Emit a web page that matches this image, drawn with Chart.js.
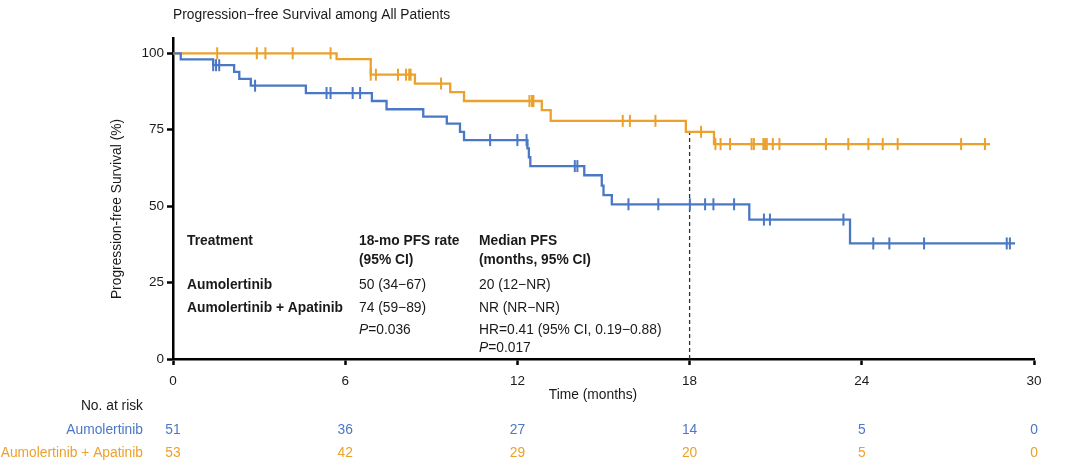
<!DOCTYPE html>
<html>
<head>
<meta charset="utf-8">
<script src="https://cdn.jsdelivr.net/npm/chart.js@4/dist/chart.umd.min.js"></script>
<style>
html,body{margin:0;padding:0;background:#fff;}
#wrap{width:1080px;height:465px;position:relative;}
</style>
</head>
<body>
<div id="wrap"><canvas id="c" width="1080" height="465"></canvas></div>
<script>
// ---- Data ----
const aumoTimes  = [0, 0.27, 1.40, 2.13, 2.31, 2.71, 4.63, 6.93, 7.44, 8.72, 9.54, 10.00, 10.14, 12.35, 12.40, 12.45, 14.33, 14.94, 15.00, 15.29, 20.08, 23.59, 29.34];
const aumoSurv   = [100, 98.0, 96.1, 93.9, 91.6, 89.4, 87.0, 84.4, 81.7, 79.3, 77.0, 74.3, 71.6, 68.9, 66.0, 63.1, 60.1, 56.7, 53.6, 50.6, 45.6, 37.8, 37.8];
const aumoCensor = [1.40, 1.50, 1.61, 2.86, 5.35, 5.49, 6.26, 6.52, 11.05, 12.00, 12.32, 14.00, 14.09, 15.87, 16.91, 18.01, 18.54, 18.83, 19.55, 20.59, 20.80, 23.36, 24.40, 24.96, 26.17, 29.05, 29.16];

const comboTimes  = [0, 5.70, 6.89, 8.43, 9.66, 10.14, 12.85, 13.16, 17.87, 18.85, 28.47];
const comboSurv   = [100, 98.1, 93.0, 90.1, 87.3, 84.4, 81.4, 77.9, 74.3, 70.3, 70.3];
const comboCensor = [1.54, 2.92, 3.22, 4.17, 5.49, 6.89, 7.07, 7.84, 8.12, 8.23, 8.28, 9.34, 12.42, 12.51, 12.56, 15.67, 15.92, 16.81, 18.40, 18.90, 19.08, 19.41, 20.16, 20.24, 20.57, 20.63, 20.69, 20.90, 21.13, 22.75, 23.53, 24.23, 24.73, 25.25, 27.46, 28.29];

const landmarkMonth = 18;
const landmarkValue = 74.3;

const xTicks = [0, 6, 12, 18, 24, 30];
const yTicks = [0, 25, 50, 75, 100];

const riskTimes = [0, 6, 12, 18, 24, 30];
const riskAumo  = [51, 36, 27, 14, 5, 0];
const riskCombo = [53, 42, 29, 20, 5, 0];

const armNames = ["Aumolertinib", "Aumolertinib + Apatinib"];

// ---- styles ----
const BLUE = "#4a78c4";
const ORANGE = "#eca12c";
const FONT = "'Liberation Sans', Arial, Helvetica, sans-serif";
const FS = 13.8;

function stepPoints(times, surv){ return times.map((t,i)=>({x:t,y:surv[i]})); }
function survAt(times, surv, t){
  let v = surv[0];
  for (let i=0;i<times.length;i++){ if (times[i] <= t) v = surv[i]; }
  return v;
}
function censorPoints(ct, times, surv){ return ct.map(t=>({x:t,y:survAt(times,surv,t)})); }

const textPlugin = {
  id:'texts',
  afterDraw(chart){
    const ctx = chart.ctx;
    const xs = chart.scales.x;
    ctx.save();
    ctx.fillStyle = '#1a1a1a';
    ctx.textBaseline = 'middle';
    const bold = "bold " + FS + "px " + FONT, reg = FS + "px " + FONT, ital = "italic " + FS + "px " + FONT;
    // title
    ctx.font = reg;
    ctx.textAlign = 'left';
    ctx.fillText("Progression\u2212free Survival among All Patients", 173, 15);
    // x title
    ctx.textAlign = 'center';
    ctx.fillText("Time (months)", 593, 395);
    // y title
    ctx.save();
    ctx.translate(117, 209);
    ctx.rotate(-Math.PI/2);
    ctx.fillText("Progression-free Survival (%)", 0, 0);
    ctx.restore();

    // inner table
    ctx.textAlign = 'left';
    ctx.font = bold;
    ctx.fillText("Treatment", 187, 241.5);
    ctx.fillText("18-mo PFS rate", 359, 241.5);
    ctx.fillText("(95% CI)", 359, 260);
    ctx.fillText("Median PFS", 479, 241.5);
    ctx.fillText("(months, 95% CI)", 479, 260);
    ctx.fillText(armNames[0], 187, 285);
    ctx.fillText(armNames[1], 187, 308);
    ctx.font = reg;
    ctx.fillText("50 (34\u221267)", 359, 285);
    ctx.fillText("74 (59\u221289)", 359, 308);
    ctx.fillText("20 (12\u2212NR)", 479, 285);
    ctx.fillText("NR (NR\u2212NR)", 479, 308);
    ctx.fillText("HR=0.41 (95% CI, 0.19\u22120.88)", 479, 330);
    function pText(x, y, rest){
      ctx.font = ital; ctx.fillText("P", x, y);
      const w = ctx.measureText("P").width;
      ctx.font = reg; ctx.fillText(rest, x + w, y);
    }
    pText(359, 330, "=0.036");
    pText(479, 348, "=0.017");

    // risk table
    ctx.font = reg;
    ctx.textAlign = 'right';
    ctx.fillStyle = '#1a1a1a';
    ctx.fillText("No. at risk", 143, 406);
    ctx.fillStyle = BLUE;
    ctx.fillText(armNames[0], 143, 430);
    ctx.fillStyle = ORANGE;
    ctx.fillText(armNames[1], 143, 453);
    ctx.textAlign = 'center';
    riskTimes.forEach((t,i)=>{
      const px = xs.getPixelForValue(t);
      ctx.fillStyle = BLUE;   ctx.fillText(String(riskAumo[i]), px, 430);
      ctx.fillStyle = ORANGE; ctx.fillText(String(riskCombo[i]), px, 453);
    });
    ctx.restore();
  }
};

new Chart(document.getElementById('c'), {
  type: 'line',
  data: {
    datasets: [
      { label: armNames[1], data: stepPoints(comboTimes, comboSurv), stepped: 'before',
        borderColor: ORANGE, borderWidth: 2.3, pointRadius: 0, fill: false, order: 2 },
      { label: armNames[0], data: stepPoints(aumoTimes, aumoSurv), stepped: 'before',
        borderColor: BLUE, borderWidth: 2.3, pointRadius: 0, fill: false, order: 1 },
      { type: 'scatter', label: 'c1', data: censorPoints(comboCensor, comboTimes, comboSurv),
        pointStyle: 'line', rotation: 90, radius: 6, borderColor: ORANGE, borderWidth: 2, showLine: false, order: 2 },
      { type: 'scatter', label: 'c0', data: censorPoints(aumoCensor, aumoTimes, aumoSurv),
        pointStyle: 'line', rotation: 90, radius: 6, borderColor: BLUE, borderWidth: 2, showLine: false, order: 1 },
      { label: 'landmark', data: [{x:landmarkMonth,y:0},{x:landmarkMonth,y:landmarkValue}],
        borderColor: '#333', borderWidth: 1.3, borderDash: [4,3], pointRadius: 0, fill: false, order: 3 }
    ]
  },
  options: {
    responsive: false,
    animation: false,
    devicePixelRatio: 1,
    layout: { padding: { left: 0, right: 46, top: 38, bottom: 0 } },
    plugins: { legend: { display: false }, tooltip: { enabled: false }, title: { display: false } },
    scales: {
      x: {
        type: 'linear', min: 0, max: 30,
        afterBuildTicks: s => { s.ticks = xTicks.map(v=>({value:v})); },
        afterFit: s => { s.height = 106; },
        grid: { display: true, drawOnChartArea: false, drawTicks: true, tickLength: 6, tickColor: '#000', tickWidth: 2.5 },
        border: { display: true, color: '#000', width: 2.5 },
        ticks: { color: '#1a1a1a', font: { size: 13.5, family: FONT }, padding: 8, maxRotation: 0 }
      },
      y: {
        type: 'linear', min: 0, max: 105,
        afterBuildTicks: s => { s.ticks = yTicks.map(v=>({value:v})); },
        afterFit: s => { s.width = 173; },
        grid: { display: true, drawOnChartArea: false, drawTicks: true, tickLength: 6, tickColor: '#000', tickWidth: 2.5 },
        border: { display: true, color: '#000', width: 2.5 },
        ticks: { color: '#1a1a1a', font: { size: 13.5, family: FONT }, padding: 3 }
      }
    }
  },
  plugins: [textPlugin]
});
</script>
</body>
</html>
